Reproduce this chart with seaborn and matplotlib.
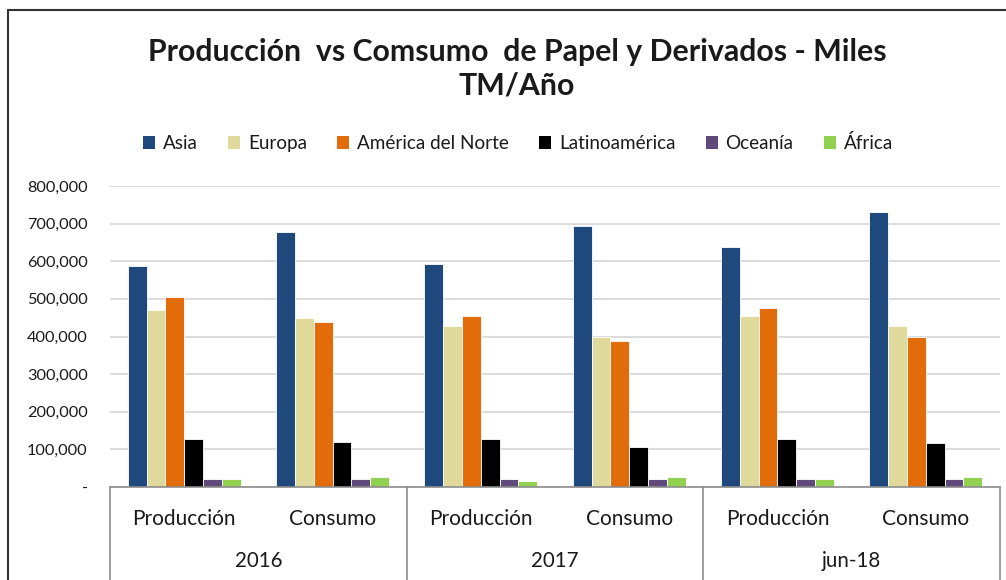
import matplotlib
matplotlib.use("Agg")
import matplotlib.pyplot as plt
import pandas as pd
import seaborn as sns
from matplotlib.lines import Line2D
from matplotlib.patches import Patch
from matplotlib.ticker import FuncFormatter

REGIONS = ["Asia", "Europa", "América del Norte", "Latinoamérica", "Oceanía", "África"]
COLORS = ["#1F497D", "#DFDA9B", "#E36C0A", "#000000", "#604A7B", "#92D050"]
PERIODS = ["2016", "2017", "jun-18"]
TYPES = ["Producción", "Consumo"]

# values in miles TM, one list per region, order: 2016 P/C, 2017 P/C, jun-18 P/C
ASIA = [588000, 678000, 593000, 694000, 639000, 731000]
EUROPA = [470000, 449000, 429000, 399000, 454000, 429000]
AMERICA_NORTE = [504000, 438000, 454000, 387000, 475000, 400000]
LATAM = [127000, 119000, 127000, 105000, 127000, 118000]
OCEANIA = [20000, 20000, 21000, 21000, 21000, 21000]
AFRICA = [20000, 26000, 17000, 27000, 21000, 27000]

series = [ASIA, EUROPA, AMERICA_NORTE, LATAM, OCEANIA, AFRICA]
slots = [f"{p}|{t}" for p in PERIODS for t in TYPES]
rows = []
for region, values in zip(REGIONS, series):
    for slot, v in zip(slots, values):
        rows.append({"slot": slot, "region": region, "value": v})
df = pd.DataFrame(rows)

sns.set_theme(style="white")
plt.rcParams["font.family"] = ["Lato", "DejaVu Sans"]
text_color = "#1a1a1a"

W, H = 1006, 580
fig = plt.figure(figsize=(W / 100, H / 100), dpi=100)
x0, x1, y_top, y_bot = 110, 1000, 186, 487
ax = fig.add_axes([x0 / W, 1 - y_bot / H, (x1 - x0) / W, (y_bot - y_top) / H])

sns.barplot(
    data=df, x="slot", y="value", hue="region", order=slots, hue_order=REGIONS,
    palette=COLORS, width=0.76, saturation=1, errorbar=None, ax=ax, legend=False,
    linewidth=0.6, edgecolor="#ffffff",
)
ax.set_xlim(-0.5, len(slots) - 0.5)
ax.set_ylim(0, 800000)
ax.set_yticks(range(0, 800001, 100000))
ax.yaxis.set_major_formatter(FuncFormatter(lambda v, _: "-" if v == 0 else f"{int(v):,}"))
ax.tick_params(axis="y", length=0, pad=16, labelsize=11.7, labelcolor=text_color)
ax.set_xticks([])
ax.set_xlabel("")
ax.set_ylabel("")
ax.grid(axis="y", color="#d9d9d9", linewidth=1.3)
ax.set_axisbelow(True)
for side in ["top", "right", "left"]:
    ax.spines[side].set_visible(False)
ax.spines["bottom"].set_color("#8c8c8c")
ax.spines["bottom"].set_linewidth(1.2)

# multi-level category axis
trans = ax.get_xaxis_transform()
for b in [-0.5, 1.5, 3.5, 5.5]:
    ax.add_line(Line2D([b, b], [0, -0.32], transform=trans, color="#8c8c8c", linewidth=1.2, clip_on=False))
for i, slot in enumerate(slots):
    period, kind = slot.split("|")
    ax.text(i, -0.105, kind, transform=trans, ha="center", va="center", fontsize=15, color=text_color)
for j, period in enumerate(PERIODS):
    ax.text(2 * j + 0.5, -0.245, period, transform=trans, ha="center", va="center", fontsize=14.8, color=text_color)

# title and legend
fig.text(517 / W, 1 - 69 / H, "Producción  vs Comsumo  de Papel y Derivados - Miles\nTM/Año",
         ha="center", va="center", fontsize=21.8, fontweight="bold", color=text_color, linespacing=1.25)
handles = [Patch(facecolor=c, edgecolor="none") for c in COLORS]
fig.legend(handles, REGIONS, loc="center", bbox_to_anchor=(518 / W, 1 - 143 / H), ncol=6,
           frameon=False, fontsize=13.6, handlelength=0.65, handleheight=0.65, handletextpad=0.4,
           columnspacing=1.6, labelcolor=text_color)

# chart frame (cropped at right and bottom)
fig.add_artist(Line2D([8 / W, 1.0], [1 - 10 / H, 1 - 10 / H], transform=fig.transFigure, color="#333333", linewidth=1.5))
fig.add_artist(Line2D([8 / W, 8 / W], [1 - 10 / H, 0], transform=fig.transFigure, color="#333333", linewidth=1.5))

fig.savefig("out.png", dpi=100)
